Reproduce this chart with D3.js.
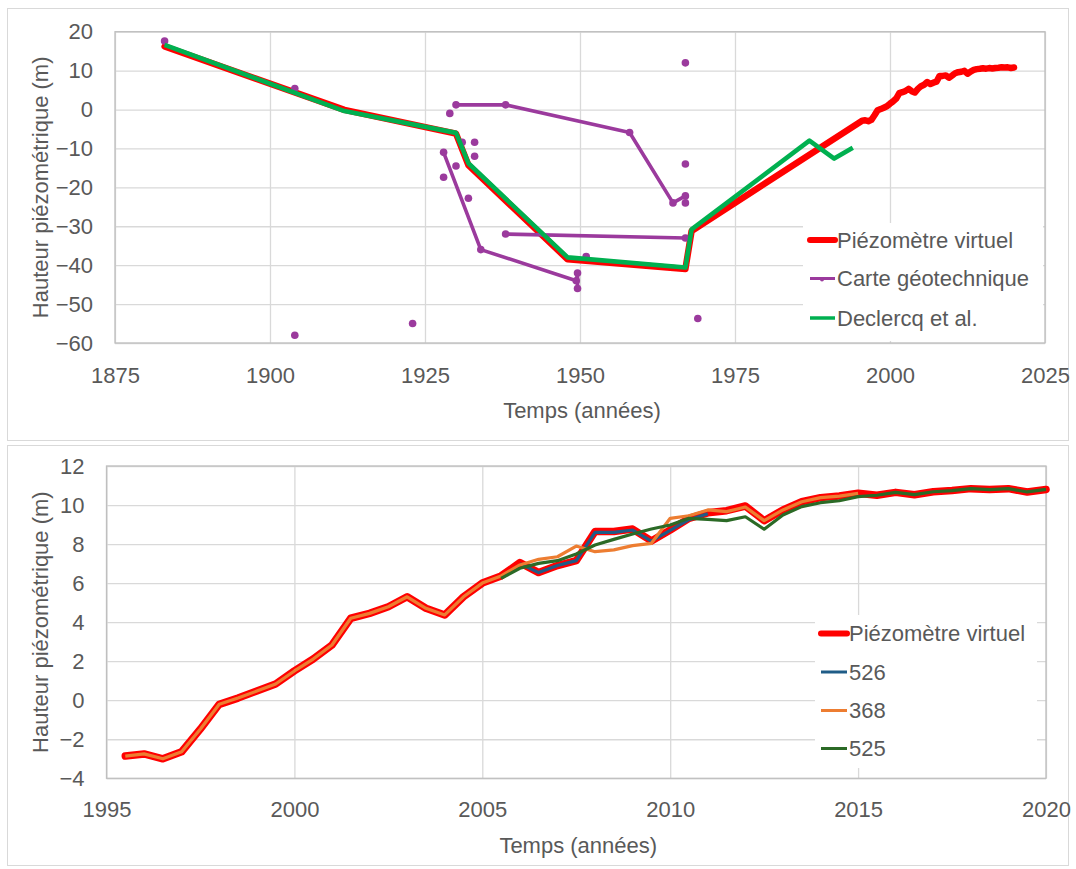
<!DOCTYPE html>
<html>
<head>
<meta charset="utf-8">
<script src="https://cdn.jsdelivr.net/npm/d3@7"></script>
<style>
  html, body { margin: 0; padding: 0; background: #ffffff; }
  svg { display: block; }
  text { font-family: "Liberation Sans", Arial, sans-serif; fill: #595959; }
</style>
</head>
<body>
<svg id="chart" width="1076" height="869"></svg>
<script>
// ---------------- Top chart data ----------------
const topXTicks = [1875, 1900, 1925, 1950, 1975, 2000, 2025];
const topYTicks = [20, 10, 0, -10, -20, -30, -40, -50, -60];

// Virtual piezometer - historical part (then continues with the recent record below)
const virtHistYears  = [1883, 1912, 1930, 1932, 1948, 1967, 1968];
const virtHistValues = [16.2, -0.1, -6.2, -14.3, -38.5, -41.0, -31.2];

// Carte géotechnique (null = gap between groups)
const carteYears  = [1883, null, 1904, null, 1904, null, 1923, null, 1929, null,
                     1930, 1938, 1958, 1965, 1967, null, 1967, null, 1967, null, 1967, null, 1969, null,
                     1928, 1934, 1949.4, 1949.6, 1949.6, null,
                     1928, null, 1930, null, 1931, null, 1933, null, 1933, null, 1932, null,
                     1938, 1967, null, 1951];
const carteValues = [17.6, null, 5.4, null, -58, null, -55, null, -1, null,
                     1.2, 1.2, -5.9, -24, -22.2, null, -24, null, -14, null, 12, null, -53.7, null,
                     -11, -36, -44, -42, -46, null,
                     -17.4, null, -14.5, null, -8.4, null, -8.4, null, -12, null, -22.8, null,
                     -32, -33, null, -37.8];

// Declercq et al.
const declercqYears  = [1883, 1912, 1930, 1932, 1948, 1967, 1968, 1987, 1991, 1994];
const declercqValues = [16.6, -0.4, -6.0, -13.8, -38.0, -40.6, -30.8, -8.0, -12.6, -9.8];

// ---------------- Bottom chart data ----------------
const botXTicks = [1995, 2000, 2005, 2010, 2015, 2020];
const botYTicks = [12, 10, 8, 6, 4, 2, 0, -2, -4];

const virtYears = [1995.5, 1996, 1996.5, 1997, 1997.5, 1998, 1998.5, 1999, 1999.5, 2000,
                   2000.5, 2001, 2001.5, 2002, 2002.5, 2003, 2003.5, 2004, 2004.5, 2005,
                   2005.5, 2006, 2006.5, 2007, 2007.5, 2008, 2008.5, 2009, 2009.5, 2010,
                   2010.5, 2011, 2011.5, 2012, 2012.5, 2013, 2013.5, 2014, 2014.5, 2015,
                   2015.5, 2016, 2016.5, 2017, 2017.5, 2018, 2018.5, 2019, 2019.5, 2020];
const virtValues = [-2.86, -2.75, -3.0, -2.64, -1.47, -0.21, 0.11, 0.47, 0.83, 1.5,
                    2.11, 2.83, 4.2, 4.45, 4.79, 5.3, 4.71, 4.37, 5.3, 6.0,
                    6.37, 7.05, 6.54, 6.9, 7.15, 8.64, 8.64, 8.77, 8.16, 8.72,
                    9.32, 9.6, 9.71, 9.95, 9.2, 9.75, 10.17, 10.38, 10.46, 10.6,
                    10.5, 10.65, 10.53, 10.68, 10.74, 10.84, 10.79, 10.84, 10.67, 10.8];

const s526Years  = [2006, 2006.5, 2007, 2007.5, 2008, 2008.5, 2009, 2009.5, 2010, 2010.5, 2011];
const s526Values = [7.0, 6.54, 6.9, 7.15, 8.6, 8.6, 8.72, 8.15, 8.7, 9.25, 9.55];

const s368Years  = [1995.5, 1996, 1996.5, 1997, 1997.5, 1998, 1998.5, 1999, 1999.5, 2000,
                    2000.5, 2001, 2001.5, 2002, 2002.5, 2003, 2003.5, 2004, 2004.5, 2005,
                    2005.5, 2006, 2006.5, 2007, 2007.5, 2008, 2008.5, 2009, 2009.5, 2010,
                    2010.5, 2011, 2011.5, 2012, 2012.5, 2013, 2013.5, 2014, 2014.5, 2015];
const s368Values = [-2.86, -2.75, -3.0, -2.64, -1.47, -0.21, 0.11, 0.47, 0.83, 1.5,
                    2.11, 2.83, 4.2, 4.45, 4.79, 5.3, 4.71, 4.37, 5.3, 6.0,
                    6.37, 6.93, 7.22, 7.35, 7.9, 7.61, 7.7, 7.92, 8.04, 9.32,
                    9.45, 9.75, 9.66, 9.9, 9.2, 9.75, 10.17, 10.38, 10.46, 10.6];

const s525Years  = [2005.5, 2006, 2006.5, 2007, 2007.5, 2008, 2008.5, 2009, 2009.5, 2010,
                    2010.5, 2011, 2011.5, 2012, 2012.5, 2013, 2013.5, 2014, 2014.5, 2015,
                    2015.5, 2016, 2016.5, 2017, 2017.5, 2018, 2018.5, 2019, 2019.5, 2020];
const s525Values = [6.24, 6.76, 7.01, 7.15, 7.49, 7.95, 8.24, 8.52, 8.77, 8.98,
                    9.32, 9.27, 9.2, 9.4, 8.76, 9.49, 9.92, 10.12, 10.22, 10.43,
                    10.5, 10.65, 10.53, 10.68, 10.74, 10.84, 10.79, 10.84, 10.67, 10.8];

const topLegendLabels = ["Piézomètre virtuel", "Carte géotechnique", "Declercq et al."];
const botLegendLabels = ["Piézomètre virtuel", "526", "368", "525"];
const xTitle = "Temps (années)";
const yTitle = "Hauteur piézométrique (m)";

// ---------------- Drawing ----------------
const svg = d3.select("#chart");
const GRID = "#d9d9d9", AXIS = "#bfbfbf";
const RED = "#ff0000", PURPLE = "#9b3a9d", GREEN = "#00b050";
const BLUE = "#1f5c87", ORANGE = "#ed7d31", DKGREEN = "#2b6a26";
const FS = 22;

const zip = (xs, ys) => xs.map((x, i) => ({x: x, y: ys[i]}));

// panel frames
svg.append("rect").attr("x", 7.5).attr("y", 8.5).attr("width", 1061).attr("height", 432)
   .attr("fill", "#fff").attr("stroke", GRID);
svg.append("rect").attr("x", 7.5).attr("y", 445.5).attr("width", 1061).attr("height", 420)
   .attr("fill", "#fff").attr("stroke", GRID);

function drawFrame(x, y, xTicks, yTicks, xPad, xTitleY, yTitleX) {
  const [x0, x1] = x.range();
  const [y0, y1] = y.range();
  const g = svg.append("g");
  const gy = g.append("g").attr("transform", `translate(${x0},0)`)
    .call(d3.axisLeft(y).tickValues(yTicks).tickSize(-(x1 - x0)).tickPadding(22)
      .tickFormat(d3.format("d")));
  gy.select(".domain").remove();
  gy.selectAll("line").attr("stroke", GRID).attr("stroke-width", 1.3);
  gy.selectAll("text").style("font-size", FS + "px").attr("fill", "#595959")
    .style("font-family", '"Liberation Sans", Arial, sans-serif');
  const gx = g.append("g").attr("transform", `translate(0,${y0})`)
    .call(d3.axisBottom(x).tickValues(xTicks).tickSize(-(y0 - y1)).tickPadding(xPad)
      .tickFormat(d3.format("d")));
  gx.select(".domain").remove();
  gx.selectAll("line").attr("stroke", GRID).attr("stroke-width", 1.3);
  gx.selectAll("text").style("font-size", FS + "px").attr("fill", "#595959")
    .style("font-family", '"Liberation Sans", Arial, sans-serif');
  g.append("rect").attr("x", x0).attr("y", y1).attr("width", x1 - x0).attr("height", y0 - y1)
    .attr("fill", "none").attr("stroke", AXIS).attr("stroke-width", 1.3);
  g.append("text").attr("x", (x0 + x1) / 2 + 2).attr("y", xTitleY).attr("text-anchor", "middle")
    .style("font-size", FS + "px").text(xTitle);
  g.append("text").attr("transform", `translate(${yTitleX},${(y0 + y1) / 2}) rotate(-90)`)
    .attr("text-anchor", "middle").attr("dy", "0.35em").style("font-size", FS + "px").text(yTitle);
}

// ===== Top chart =====
const tx = d3.scaleLinear().domain([1875, 2025]).range([115, 1045]);
const ty = d3.scaleLinear().domain([-60, 20]).range([343, 31.7]);
drawFrame(tx, ty, topXTicks, topYTicks, 24, 418, 40);

const tline = d3.line().defined(d => d.x != null && d.y != null).x(d => tx(d.x)).y(d => ty(d.y));

const virtTop = zip(virtHistYears, virtHistValues).concat(zip(virtYears, virtValues));
svg.append("path").datum(virtTop).attr("d", tline).attr("fill", "none")
   .attr("stroke", RED).attr("stroke-width", 6.5).attr("stroke-linejoin", "round").attr("stroke-linecap", "round");

const carte = zip(carteYears, carteValues);
svg.append("path").datum(carte).attr("d", tline).attr("fill", "none")
   .attr("stroke", PURPLE).attr("stroke-width", 3.6).attr("stroke-linejoin", "round");
svg.append("g").selectAll("circle").data(carte.filter(d => d.x != null))
   .join("circle").attr("cx", d => tx(d.x)).attr("cy", d => ty(d.y)).attr("r", 3.8).attr("fill", PURPLE);

svg.append("path").datum(zip(declercqYears, declercqValues)).attr("d", tline).attr("fill", "none")
   .attr("stroke", GREEN).attr("stroke-width", 4.6).attr("stroke-linejoin", "round");

// top legend
const tl = svg.append("g");
tl.append("rect").attr("x", 803).attr("y", 223).attr("width", 240).attr("height", 118).attr("fill", "#fff");
const tlRows = [240, 278.5, 318];
const tlStyles = [{c: RED, w: 6}, {c: PURPLE, w: 3, m: true}, {c: GREEN, w: 3.5}];
topLegendLabels.forEach((lab, i) => {
  const yy = tlRows[i];
  tl.append("line").attr("x1", 810).attr("x2", 835).attr("y1", yy).attr("y2", yy)
    .attr("stroke", tlStyles[i].c).attr("stroke-width", tlStyles[i].w).attr("stroke-linecap", i === 0 ? "round" : "butt");
  if (tlStyles[i].m) tl.append("circle").attr("cx", 822).attr("cy", yy + 1).attr("r", 2).attr("fill", tlStyles[i].c);
  tl.append("text").attr("x", 837).attr("y", yy).attr("dy", "0.35em").style("font-size", FS + "px").text(lab);
});

// ===== Bottom chart =====
const bx = d3.scaleLinear().domain([1995, 2020]).range([106.5, 1046]);
const by = d3.scaleLinear().domain([-4, 12]).range([778.3, 466]);
drawFrame(bx, by, botXTicks, botYTicks, 23, 853, 40);

const bline = d3.line().x(d => bx(d.x)).y(d => by(d.y));
function bpath(xs, ys, color, w, cap) {
  svg.append("path").datum(zip(xs, ys)).attr("d", bline).attr("fill", "none")
    .attr("stroke", color).attr("stroke-width", w).attr("stroke-linejoin", "round")
    .attr("stroke-linecap", cap || "butt");
}
bpath(virtYears, virtValues, RED, 7.5, "round");
bpath(s526Years, s526Values, BLUE, 3.2);
bpath(s368Years, s368Values, ORANGE, 3.2);
bpath(s525Years, s525Values, DKGREEN, 3.2);

// bottom legend
const bl = svg.append("g");
bl.append("rect").attr("x", 815).attr("y", 615).attr("width", 222).attr("height", 153).attr("fill", "#fff");
const blRows = [633.5, 672, 710.5, 748.5];
const blStyles = [{c: RED, w: 6}, {c: BLUE, w: 3}, {c: ORANGE, w: 3}, {c: DKGREEN, w: 3}];
botLegendLabels.forEach((lab, i) => {
  const yy = blRows[i];
  bl.append("line").attr("x1", 821).attr("x2", 847).attr("y1", yy).attr("y2", yy)
    .attr("stroke", blStyles[i].c).attr("stroke-width", blStyles[i].w).attr("stroke-linecap", i === 0 ? "round" : "butt");
  bl.append("text").attr("x", 849).attr("y", yy).attr("dy", "0.35em").style("font-size", FS + "px").text(lab);
});
</script>
</body>
</html>
